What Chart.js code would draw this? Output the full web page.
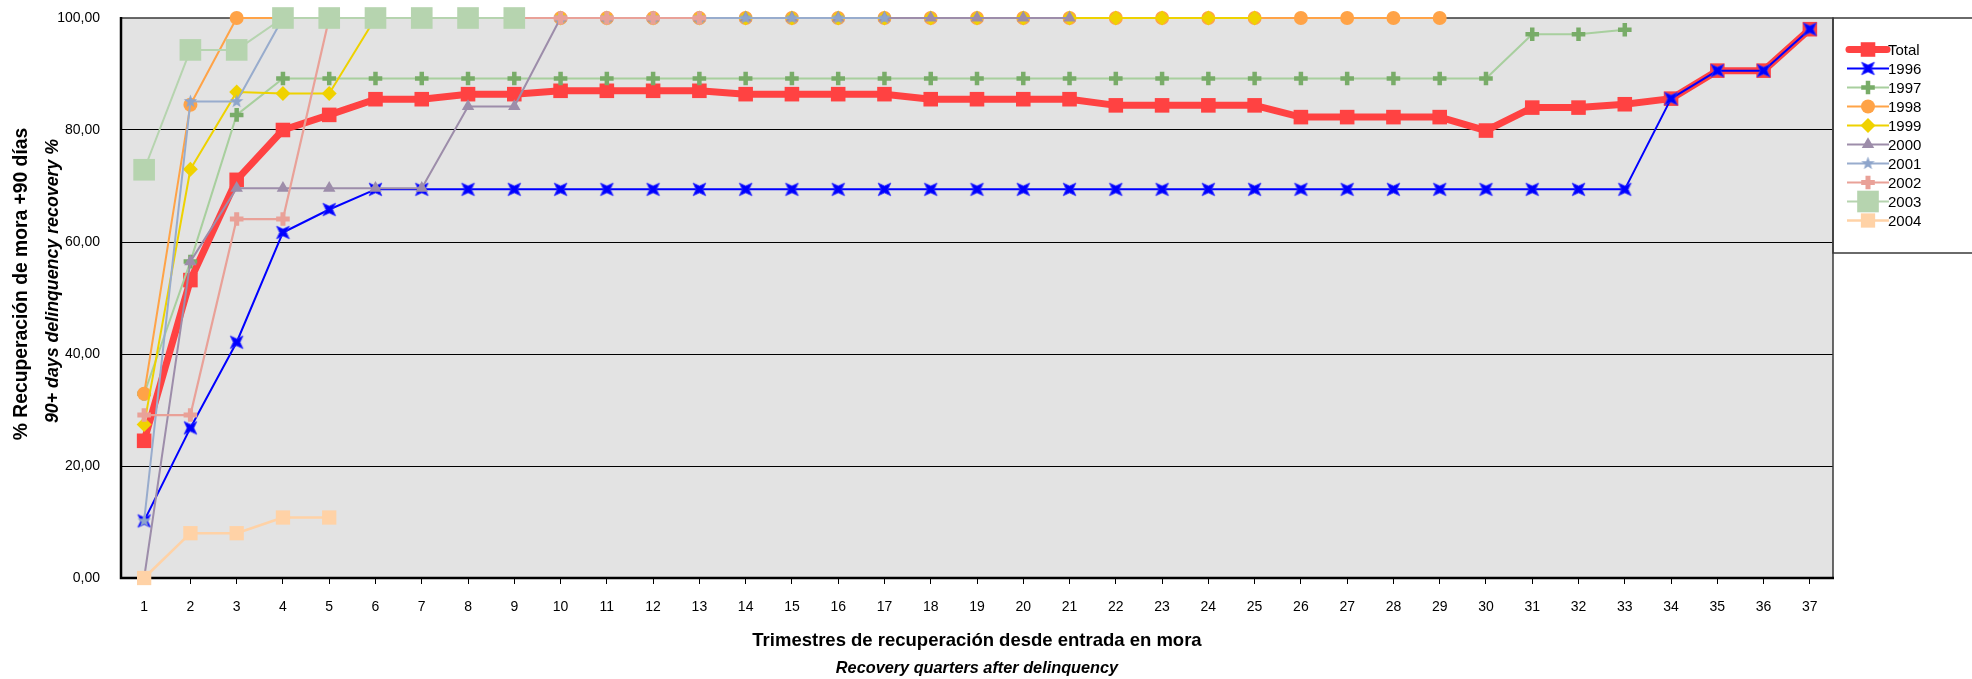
<!DOCTYPE html>
<html>
<head>
<meta charset="utf-8">
<script src="https://cdn.jsdelivr.net/npm/chart.js@4.4.1/dist/chart.umd.min.js"></script>
<style>
  html, body { margin: 0; padding: 0; background: #ffffff; }
  #wrap { width: 1972px; height: 679px; position: relative; }
  canvas { display: block; }
</style>
</head>
<body>
<div id="wrap"><canvas id="c" width="1972" height="679" style="width:1972px;height:679px"></canvas></div>
<script>
// ---------- DATA ----------
const quarters = ['1','2','3','4','5','6','7','8','9','10','11','12','13','14','15','16','17','18','19','20','21','22','23','24','25','26','27','28','29','30','31','32','33','34','35','36','37'];
const seriesNames = ['Total','1996','1997','1998','1999','2000','2001','2002','2003','2004'];
const yTicks = [0, 20, 40, 60, 80, 100];

const total = [24.5, 53.2, 71.1, 80.0, 82.7, 85.5, 85.5, 86.4, 86.4, 87.0, 87.0, 87.0, 87.0, 86.4, 86.4, 86.4, 86.4, 85.5, 85.5, 85.5, 85.5, 84.4, 84.4, 84.4, 84.4, 82.3, 82.3, 82.3, 82.3, 79.9, 84.0, 84.0, 84.6, 85.6, 90.6, 90.6, 98.0];
const y1996 = [10.2, 26.8, 42.1, 61.7, 65.8, 69.4, 69.4, 69.4, 69.4, 69.4, 69.4, 69.4, 69.4, 69.4, 69.4, 69.4, 69.4, 69.4, 69.4, 69.4, 69.4, 69.4, 69.4, 69.4, 69.4, 69.4, 69.4, 69.4, 69.4, 69.4, 69.4, 69.4, 69.4, 85.6, 90.6, 90.6, 98.0];
const y1997 = [32.9, 56.5, 82.7, 89.2, 89.2, 89.2, 89.2, 89.2, 89.2, 89.2, 89.2, 89.2, 89.2, 89.2, 89.2, 89.2, 89.2, 89.2, 89.2, 89.2, 89.2, 89.2, 89.2, 89.2, 89.2, 89.2, 89.2, 89.2, 89.2, 89.2, 97.1, 97.1, 97.9];
const y1998 = [32.9, 84.5, 100, 100, 100, 100, 100, 100, 100, 100, 100, 100, 100, 100, 100, 100, 100, 100, 100, 100, 100, 100, 100, 100, 100, 100, 100, 100, 100];
const y1999 = [27.4, 73.0, 86.8, 86.5, 86.5, 100, 100, 100, 100, 100, 100, 100, 100, 100, 100, 100, 100, 100, 100, 100, 100, 100, 100, 100, 100];
const y2000 = [0, 56.5, 69.6, 69.6, 69.6, 69.6, 69.6, 84.2, 84.2, 100, 100, 100, 100, 100, 100, 100, 100, 100, 100, 100, 100];
const y2001 = [10.2, 85.1, 85.1, 100, 100, 100, 100, 100, 100, 100, 100, 100, 100, 100, 100, 100, 100];
const y2002 = [29.1, 29.1, 64.1, 64.1, 100, 100, 100, 100, 100, 100, 100, 100, 100];
const y2003 = [72.9, 94.3, 94.3, 100, 100, 100, 100, 100, 100];
const y2004 = [0, 8.0, 8.0, 10.8, 10.8];

const yTitle = '% Recuperación de mora +90 días';
const yTitle2 = '90+ days delinquency recovery %';
const xTitle = 'Trimestres de recuperación desde entrada en mora';
const xTitle2 = 'Recovery quarters after delinquency';

const FONT = '"Liberation Sans", Arial, Helvetica, sans-serif';

// ---------- custom marker images ----------
function makeCanvas(size, draw) {
  const c = document.createElement('canvas');
  c.width = size; c.height = size;
  const g = c.getContext('2d');
  draw(g, size / 2);
  return c;
}
function starPath(g, cx, cy, n, ro, ri, rot) {
  g.beginPath();
  for (let i = 0; i < 2 * n; i++) {
    const r = i % 2 === 0 ? ro : ri;
    const a = rot + i * Math.PI / n;
    const px = cx + r * Math.cos(a), py = cy + r * Math.sin(a);
    if (i === 0) g.moveTo(px, py); else g.lineTo(px, py);
  }
  g.closePath();
}
const xStar = makeCanvas(19, (g, c) => {
  starPath(g, c, c, 4, 9, 3.4, Math.PI / 4);
  g.fillStyle = '#0000FF'; g.fill();
  g.lineWidth = 0.8; g.strokeStyle = '#3333FF'; g.stroke();
});
const fiveStar = makeCanvas(15, (g, c) => {
  starPath(g, c, c, 5, 7, 2.9, -Math.PI / 2);
  g.fillStyle = '#8EA5CB'; g.fill();
});

// ---------- datasets ----------
const styles = [
  { line: '#FF4242', point: '#FF4242', bw: 7, ps: 'rect', r: 10.3, pbw: 0 },
  { line: '#0000FF', point: '#0000FF', bw: 2, ps: xStar, r: 9, pbw: 0 },
  { line: '#A8CF9E', point: '#78AC68', bw: 2, ps: 'cross', r: 6.8, pbw: 4.5 },
  { line: '#FFA347', point: '#FFA347', bw: 2, ps: 'circle', r: 7, pbw: 0 },
  { line: '#EED200', point: '#F0D200', bw: 2, ps: 'rectRot', r: 7.5, pbw: 0 },
  { line: '#9D8DAA', point: '#9D8DAA', bw: 2, ps: 'triangle', r: 7.2, pbw: 0 },
  { line: '#98ACCD', point: '#8EA5CB', bw: 2, ps: fiveStar, r: 7, pbw: 0 },
  { line: '#E9A198', point: '#E9A198', bw: 2.2, ps: 'cross', r: 6.8, pbw: 5 },
  { line: '#B6D4AF', point: '#B6D4AF', bw: 2, ps: 'rect', r: 15.3, pbw: 0 },
  { line: '#FFD2A6', point: '#FFD2A6', bw: 2.5, ps: 'rect', r: 10.1, pbw: 0 }
];
const seriesData = [total, y1996, y1997, y1998, y1999, y2000, y2001, y2002, y2003, y2004];

const datasets = seriesNames.map((name, i) => ({
  label: name,
  data: seriesData[i],
  borderColor: styles[i].line,
  backgroundColor: styles[i].point,
  borderWidth: styles[i].bw,
  pointStyle: styles[i].ps,
  pointRadius: styles[i].r,
  pointHoverRadius: styles[i].r,
  pointBackgroundColor: styles[i].point,
  pointBorderColor: styles[i].point,
  pointBorderWidth: styles[i].pbw,
  borderJoinStyle: 'round',
  borderCapStyle: 'round',
  tension: 0,
  fill: false,
  clip: false,
  order: seriesNames.length - i
}));

// ---------- plugins ----------
const framePlugin = {
  id: 'frame',
  beforeDraw(chart) {
    const { ctx, chartArea: a } = chart;
    ctx.save();
    ctx.fillStyle = '#E3E3E3';
    ctx.fillRect(a.left, a.top, a.right - a.left, a.bottom - a.top);
    ctx.restore();
  },
  beforeDatasetsDraw(chart) {
    const { ctx, chartArea: a } = chart;
    ctx.save();
    ctx.strokeStyle = '#3a3a3a';
    ctx.lineWidth = 1.5;
    ctx.beginPath();
    ctx.moveTo(a.left, a.top); ctx.lineTo(a.right, a.top); ctx.lineTo(a.right, a.bottom);
    ctx.stroke();
    ctx.strokeStyle = '#000';
    ctx.lineWidth = 2.5;
    ctx.beginPath();
    ctx.moveTo(a.left, a.top - 1); ctx.lineTo(a.left, a.bottom); ctx.lineTo(a.right + 1, a.bottom);
    ctx.stroke();
    ctx.restore();
  }
};

const textPlugin = {
  id: 'texts',
  afterDraw(chart) {
    const { ctx, chartArea: a } = chart;
    ctx.save();
    ctx.fillStyle = '#000';
    ctx.textAlign = 'center';
    ctx.textBaseline = 'middle';
    // y titles
    ctx.save();
    ctx.translate(22, 284);
    ctx.rotate(-Math.PI / 2);
    ctx.font = 'bold 19.3px ' + FONT;
    ctx.fillText(yTitle, 0, 0);
    ctx.restore();
    ctx.save();
    ctx.translate(53, 281);
    ctx.rotate(-Math.PI / 2);
    ctx.font = 'italic bold 17.8px ' + FONT;
    ctx.fillText(yTitle2, 0, 0);
    ctx.restore();
    // x titles
    const cx = (a.left + a.right) / 2;
    ctx.font = 'bold 18.5px ' + FONT;
    ctx.fillText(xTitle, cx, 641);
    ctx.font = 'italic bold 16.3px ' + FONT;
    ctx.fillText(xTitle2, cx, 669);
    ctx.restore();
  }
};

const legendPlugin = {
  id: 'customLegend',
  afterDraw(chart) {
    const { ctx, chartArea: a } = chart;
    const x0 = a.right, y0 = a.top, y1 = 253;
    ctx.save();
    ctx.fillStyle = '#FFFFFF';
    ctx.fillRect(x0 + 1, y0, chart.width - x0, y1 - y0);
    ctx.strokeStyle = '#3a3a3a';
    ctx.lineWidth = 1.5;
    ctx.beginPath();
    ctx.moveTo(chart.width, y0); ctx.lineTo(x0, y0); ctx.lineTo(x0, y1); ctx.lineTo(chart.width, y1);
    ctx.stroke();
    chart.data.datasets.forEach((ds, i) => {
      const y = 49.5 + i * 19;
      ctx.save();
      ctx.strokeStyle = ds.borderColor;
      ctx.lineWidth = ds.borderWidth;
      ctx.lineCap = i === 0 ? 'round' : 'butt';
      ctx.beginPath();
      ctx.moveTo(1847 + (i === 0 ? 2 : 0), y); ctx.lineTo(1889 - (i === 0 ? 2 : 0), y);
      ctx.stroke();
      ctx.fillStyle = ds.pointBackgroundColor;
      ctx.strokeStyle = ds.pointBorderColor;
      ctx.lineWidth = ds.pointBorderWidth;
      Chart.helpers.drawPoint(ctx, {
        pointStyle: ds.pointStyle, radius: ds.pointRadius, rotation: 0, borderWidth: ds.pointBorderWidth
      }, 1868, y);
      ctx.restore();
      ctx.fillStyle = '#000';
      ctx.font = '15px ' + FONT;
      ctx.textAlign = 'left';
      ctx.textBaseline = 'middle';
      ctx.fillText(ds.label, 1888, y + 1);
    });
    ctx.restore();
  }
};

new Chart(document.getElementById('c').getContext('2d'), {
  type: 'line',
  data: { labels: quarters, datasets },
  options: {
    responsive: false,
    animation: false,
    devicePixelRatio: 1,
    layout: { autoPadding: false, padding: { top: 18, right: 139, left: 0, bottom: 0 } },
    plugins: { legend: { display: false }, tooltip: { enabled: false }, title: { display: false } },
    elements: { line: { tension: 0 } },
    scales: {
      x: {
        type: 'category',
        offset: true,
        grid: { display: true, drawOnChartArea: false, drawTicks: true, tickLength: 6, color: '#000', lineWidth: 1, offset: false },
        border: { display: false },
        ticks: { color: '#000', font: { family: FONT, size: 14 }, padding: 15, maxRotation: 0, autoSkip: false },
        afterFit(s) { s.height = 101; }
      },
      y: {
        min: 0, max: 100,
        afterBuildTicks(s) { s.ticks = yTicks.map(v => ({ value: v })); },
        ticks: {
          color: '#000', font: { family: FONT, size: 14 }, padding: 21,
          callback: v => v.toFixed(2).replace('.', ',')
        },
        grid: {
          drawTicks: false, lineWidth: 1,
          color: c => (c.tick && (c.tick.value === 0 || c.tick.value === 100)) ? 'rgba(0,0,0,0)' : '#000'
        },
        border: { display: false },
        afterFit(s) { s.width = 121; s.paddingTop = 0; s.paddingBottom = 0; }
      }
    }
  },
  plugins: [framePlugin, textPlugin, legendPlugin]
});
</script>
</body>
</html>
